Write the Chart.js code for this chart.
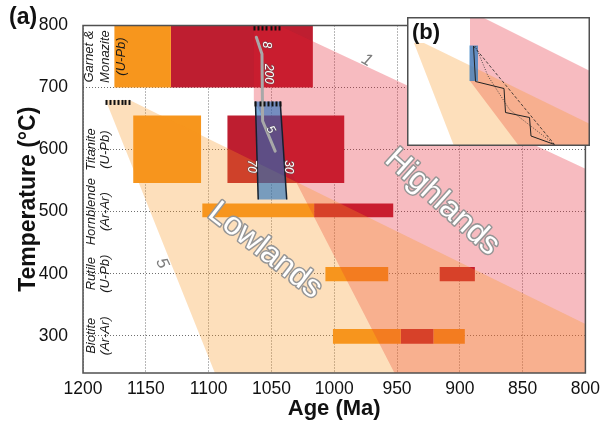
<!DOCTYPE html>
<html>
<head>
<meta charset="utf-8">
<script src="https://cdn.jsdelivr.net/npm/chart.js@4.4.0/dist/chart.umd.min.js"></script>
<style>
html, body { margin: 0; padding: 0; background: #fff; }
#wrap { position: relative; width: 606px; height: 430px; }
#main { position: absolute; left: 0; top: 0; }
#inset { position: absolute; left: 407px; top: 17px; }
</style>
</head>
<body>
<div id="wrap">
  <canvas id="main" width="606" height="430"></canvas>
  <canvas id="inset" width="183" height="129"></canvas>
</div>
<script>
// Axis ticks
const ageTicks = [1200, 1150, 1100, 1050, 1000, 950, 900, 850, 800];
const tempTicks = [300, 400, 500, 600, 700, 800];

// Cooling envelopes (age Ma, temperature °C)
const highlandsAge = [1064, 1044, 800, 800, 952, 1064];
const highlandsTemp = [800, 800, 569, 240, 240, 680];
const lowlandsAge = [1182, 1163, 800, 800, 1095];
const lowlandsTemp = [680, 680, 319, 240, 240];

// Geochronology boxes
const boxRegion = ['Lowlands', 'Highlands', 'Lowlands', 'Highlands', 'Lowlands', 'Highlands',
                   'Lowlands', 'Highlands', 'Lowlands', 'Highlands', 'Lowlands'];
const boxAgeOld = [1175, 1130, 1160, 1085, 1105, 1016, 1007, 916, 1001, 947, 921];
const boxAgeYoung = [1130, 1017, 1106, 992, 1016, 953, 957, 888, 947, 921, 896];
const boxTempHigh = [800, 800, 655, 655, 513, 513, 411, 411, 311, 311, 311];
const boxTempLow = [700, 700, 546, 546, 491, 491, 388, 388, 287, 287, 287];

// Blue trapezoid (model window)
const windowAge = [1062.7, 1043, 1037.8, 1060.5];
const windowTemp = [677.6, 677.6, 519.6, 519.6];

// Grey P-T-t track
const trackAge = [1062, 1057.5, 1057, 1047];
const trackTemp = [781, 754, 646, 597.5];

// Labels on the track / window
const trackText = ['8', '200', '5', '70', '30'];
const trackTextAge = [1053.8, 1052.2, 1050.7, 1065.6, 1036.4];
const trackTextTemp = [769, 722, 632, 573, 572];

// Contour labels
const contourText = ['1', '5'];
const contourAge = [974, 1137];
const contourTemp = [744, 417];

// Region names
const regionNames = ['Lowlands', 'Highlands'];
const regionAge = [1055, 914];
const regionTemp = [437, 515];

// Start markers (hatched ticks)
const startAgeOld = [1064, 1182, 1062.7];
const startAgeYoung = [1044, 1163, 1043];
const startTemp = [800, 680, 677.6];

// Row labels on the left
const rowLabels = [['Garnet &', 'Monazite', '(U-Pb)'], ['Titanite', '(U-Pb)'],
                   ['Hornblende', '(Ar-Ar)'], ['Rutile', '(U-Pb)'], ['Biotite', '(Ar-Ar)']];
const rowTemps = [750, 600, 500, 400, 300];

// Inset (b), local units
const insetPinkX = [63, 75, 183, 183, 112, 63];
const insetPinkY = [0, 0, 54, 129, 129, 64];
const insetPeachX = [7, 17, 183, 183, 47];
const insetPeachY = [26, 26, 107, 129, 129];
const insetBlueX = [62.5, 71, 71, 62.5];
const insetBlueY = [28.5, 28.5, 64, 64];
const insetSolidX = [66.5, 68.5, 97, 98.5, 122.5, 124, 147.5];
const insetSolidY = [29, 64.5, 71.5, 95.5, 100.5, 119, 127.5];
const insetDashedX = [66.5, 147.5];
const insetDashedY = [29, 127.5];
const insetDottedX = [68.5, 81, 102.5, 147.5];
const insetDottedY = [29, 59, 92.5, 127.5];

const FONT = "'Liberation Sans', Arial, sans-serif";
Chart.defaults.font.family = FONT;
Chart.defaults.color = '#111';

const COLORS = {
    Lowlands: 'rgb(247,150,29)',
    Highlands: 'rgb(190,30,48)',
    pinkBand: 'rgba(230,30,45,0.3)',
    peachBand: 'rgba(247,148,29,0.3)',
    blue: 'rgba(30,110,190,0.6)'
};

function toPoints(xs, ys) {
    return xs.map((x, i) => ({ x: x, y: ys[i] }));
}

function polygon(xs, ys, color, order) {
    return {
        data: toPoints(xs, ys),
        order: order,
        showLine: true,
        fill: 'shape',
        backgroundColor: color,
        borderColor: 'rgba(0,0,0,0)',
        borderWidth: 0,
        pointRadius: 0,
        tension: 0
    };
}

function polyline(xs, ys, color, width, dash, order) {
    return {
        data: toPoints(xs, ys),
        order: order,
        showLine: true,
        fill: false,
        borderColor: color,
        borderWidth: width,
        borderDash: dash,
        pointRadius: 0,
        tension: 0
    };
}

// ---------- main chart datasets ----------
const mainDatasets = [];
boxRegion.forEach((region, i) => {
    mainDatasets.push(polygon(
        [boxAgeOld[i], boxAgeYoung[i], boxAgeYoung[i], boxAgeOld[i]],
        [boxTempHigh[i], boxTempHigh[i], boxTempLow[i], boxTempLow[i]],
        COLORS[region], 50));
});
mainDatasets.push(polygon(highlandsAge, highlandsTemp, COLORS.pinkBand, 40));
mainDatasets.push(polygon(lowlandsAge, lowlandsTemp, COLORS.peachBand, 30));
mainDatasets.push(polygon(windowAge, windowTemp, COLORS.blue, 20));
mainDatasets.push(polyline([windowAge[0], windowAge[3]], [windowTemp[0], windowTemp[3]], '#16202e', 1.5, [], 15));
mainDatasets.push(polyline([windowAge[1], windowAge[2]], [windowTemp[1], windowTemp[2]], '#16202e', 1.5, [], 15));
const trackSet = polyline(trackAge, trackTemp, 'rgb(168,168,168)', 3, [], 10);
trackSet.borderCapStyle = 'round';
mainDatasets.push(trackSet);

function outlinedText(ctx, text, x, y, angleDeg, font, fill, stroke, strokeWidth) {
    ctx.save();
    ctx.translate(x, y);
    ctx.rotate(angleDeg * Math.PI / 180);
    ctx.font = font;
    ctx.textAlign = 'center';
    ctx.textBaseline = 'middle';
    if (stroke) {
        ctx.lineJoin = 'round';
        ctx.lineWidth = strokeWidth;
        ctx.strokeStyle = stroke;
        ctx.strokeText(text, 0, 0);
    }
    ctx.fillStyle = fill;
    ctx.fillText(text, 0, 0);
    ctx.restore();
}

const annotations = {
    id: 'annotations',
    afterDatasetsDraw(chart) {
        const { ctx, chartArea } = chart;
        const xs = chart.scales.x, ys = chart.scales.y;

        // hatched start markers
        ctx.save();
        ctx.strokeStyle = '#111';
        ctx.lineWidth = 2;
        startTemp.forEach((t, i) => {
            const x0 = xs.getPixelForValue(startAgeOld[i]);
            const x1 = xs.getPixelForValue(startAgeYoung[i]);
            const py = ys.getPixelForValue(t);
            for (let k = 0; k < 7; k++) {
                const px = Math.round(x0 + (x1 - x0) * k / 6) + 0.5;
                ctx.beginPath();
                ctx.moveTo(px, py);
                ctx.lineTo(px, py + 5);
                ctx.stroke();
            }
        });
        ctx.restore();

        // row labels
        ctx.save();
        ctx.fillStyle = '#1a1a1a';
        ctx.font = 'italic 13px ' + FONT;
        ctx.textAlign = 'center';
        ctx.textBaseline = 'middle';
        rowLabels.forEach((lines, i) => {
            const py = ys.getPixelForValue(rowTemps[i]);
            const step = lines.length > 2 ? 16 : 14.5;
            const first = lines.length > 2 ? 6 : 8;
            lines.forEach((line, j) => {
                ctx.save();
                ctx.translate(chartArea.left + first + j * step, py);
                ctx.rotate(-Math.PI / 2);
                ctx.fillText(line, 0, 0);
                ctx.restore();
            });
        });
        ctx.restore();

        // contour labels
        const contourAngles = [30, 65];
        contourText.forEach((t, i) => {
            outlinedText(ctx, t, xs.getPixelForValue(contourAge[i]), ys.getPixelForValue(contourTemp[i]),
                contourAngles[i], 'italic 17px ' + FONT, 'rgb(125,125,125)', null, 0);
        });

        // track labels
        const trackAngles = [90, 90, 60, 90, 90];
        trackText.forEach((t, i) => {
            outlinedText(ctx, t, xs.getPixelForValue(trackTextAge[i]), ys.getPixelForValue(trackTextTemp[i]),
                trackAngles[i], 'italic 12px ' + FONT, '#fff', 'rgba(90,90,90,0.6)', 1.5);
        });

        // region names
        const regionAngles = [38, 42];
        regionNames.forEach((t, i) => {
            outlinedText(ctx, t, xs.getPixelForValue(regionAge[i]), ys.getPixelForValue(regionTemp[i]),
                regionAngles[i], '32px ' + FONT, '#fff', 'rgb(150,150,150)', 3);
        });
    },
    afterDraw(chart) {
        const { ctx, chartArea } = chart;
        ctx.save();
        ctx.strokeStyle = 'rgb(80,80,80)';
        ctx.lineWidth = 1.5;
        ctx.strokeRect(chartArea.left, chartArea.top, chartArea.right - chartArea.left, chartArea.bottom - chartArea.top);
        ctx.fillStyle = '#111';
        ctx.font = 'bold 23px ' + FONT;
        ctx.textBaseline = 'middle';
        ctx.fillText('(a)', 9, 18);
        ctx.restore();
    }
};

new Chart(document.getElementById('main'), {
    type: 'scatter',
    data: { datasets: mainDatasets },
    options: {
        responsive: false,
        animation: false,
        layout: { padding: { left: 0, right: 15, top: 17, bottom: 0 } },
        plugins: { legend: { display: false }, tooltip: { enabled: false } },
        scales: {
            x: {
                type: 'linear', min: 800, max: 1200, reverse: true,
                afterBuildTicks: s => { s.ticks = ageTicks.map(v => ({ value: v })); },
                afterFit: s => { s.height = 57; },
                ticks: { font: { size: 17.5 }, color: '#111', padding: 6, maxRotation: 0, autoSkip: false,
                         callback: v => String(v) },
                grid: { color: 'rgba(95,95,95,0.9)', lineWidth: 1, drawTicks: false },
                border: { display: false, dash: [1, 2] },
                title: { display: true, text: 'Age (Ma)', color: '#111',
                         font: { size: 22, weight: 'bold' }, padding: { top: 0, bottom: 8 } }
            },
            y: {
                type: 'linear', min: 240, max: 800,
                afterBuildTicks: s => { s.ticks = tempTicks.map(v => ({ value: v })); },
                afterFit: s => { s.width = 83; },
                ticks: { font: { size: 17.5 }, color: '#111', padding: 15, callback: v => String(v) },
                grid: { color: 'rgba(95,95,95,0.9)', lineWidth: 1, drawTicks: false },
                border: { display: false, dash: [1, 2] },
                title: { display: true, text: 'Temperature (°C)', color: '#111',
                         font: { size: 23, weight: 'bold' }, padding: { top: 15, bottom: 0 } }
            }
        }
    },
    plugins: [annotations]
});

// ---------- inset (b) ----------
const insetDecor = {
    id: 'insetDecor',
    beforeDraw(chart) {
        const { ctx, width, height } = chart;
        ctx.save();
        ctx.fillStyle = '#fff';
        ctx.fillRect(0, 0, width, height);
        ctx.restore();
    },
    afterDraw(chart) {
        const { ctx, width, height } = chart;
        ctx.save();
        ctx.strokeStyle = 'rgb(80,80,80)';
        ctx.lineWidth = 1.5;
        ctx.strokeRect(0.75, 0.75, width - 1.5, height - 1.5);
        ctx.fillStyle = '#111';
        ctx.font = 'bold 22px ' + FONT;
        ctx.textBaseline = 'middle';
        ctx.fillText('(b)', 5, 16);
        ctx.restore();
    }
};

new Chart(document.getElementById('inset'), {
    type: 'scatter',
    data: {
        datasets: [
            polygon(insetPinkX, insetPinkY, COLORS.pinkBand, 40),
            polygon(insetPeachX, insetPeachY, COLORS.peachBand, 30),
            polygon(insetBlueX, insetBlueY, 'rgba(50,125,195,0.75)', 20),
            polyline(insetSolidX, insetSolidY, '#222', 1, [], 10),
            polyline(insetDashedX, insetDashedY, '#222', 0.8, [3, 2], 10),
            polyline(insetDottedX, insetDottedY, '#333', 0.8, [1, 1.5], 10)
        ]
    },
    options: {
        responsive: false,
        animation: false,
        layout: { padding: 0 },
        plugins: { legend: { display: false }, tooltip: { enabled: false } },
        scales: {
            x: { type: 'linear', min: 0, max: 183, display: false },
            y: { type: 'linear', min: 0, max: 129, reverse: true, display: false }
        }
    },
    plugins: [insetDecor]
});
</script>
</body>
</html>
